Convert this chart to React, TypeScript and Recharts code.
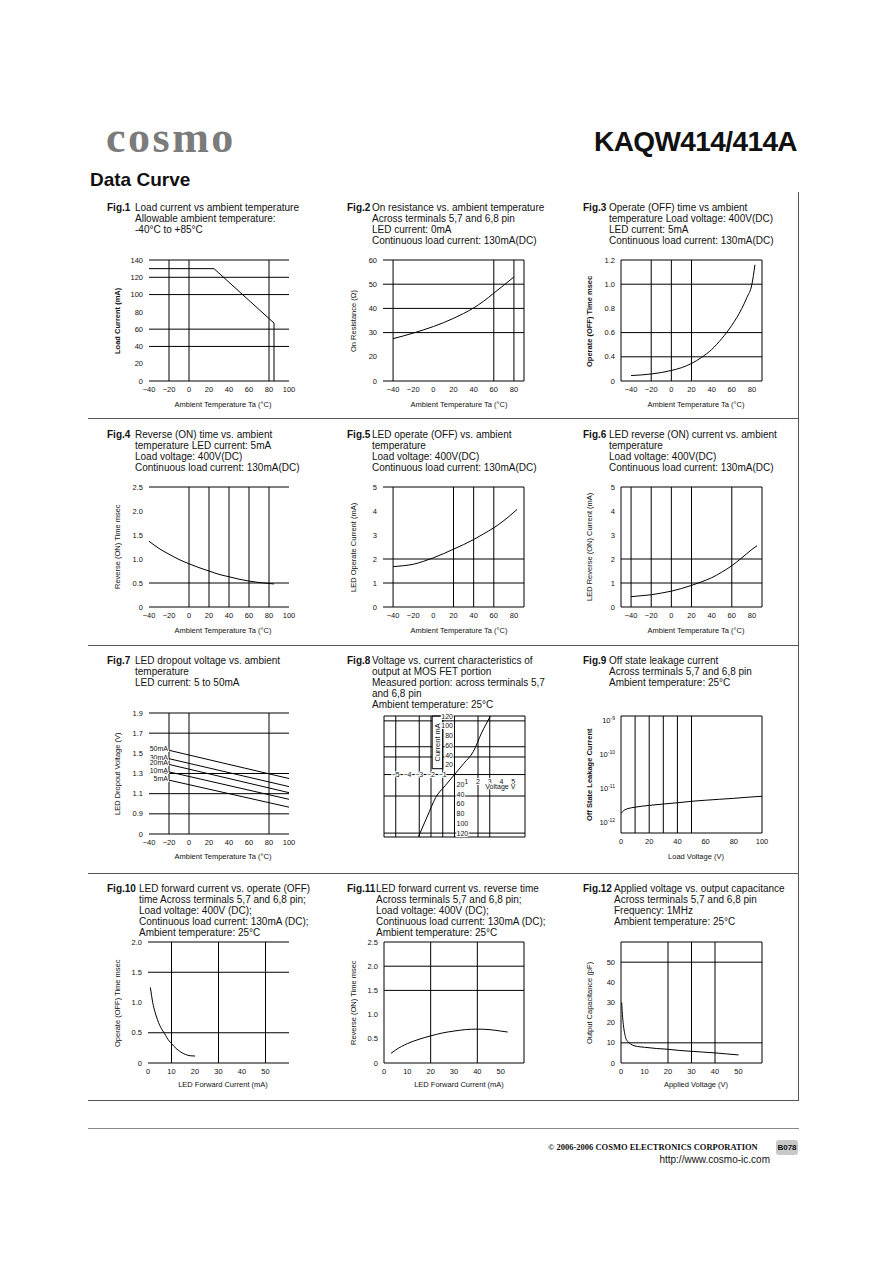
import React from 'react';
import {
  LineChart, Line, XAxis, YAxis, ReferenceLine, ReferenceDot, ReferenceArea,
} from 'recharts';

const SANS = '"Liberation Sans", Arial, Helvetica, sans-serif';
const SERIF = '"Liberation Serif", "DejaVu Serif", serif';
const INK = '#111';

// ---------- data ----------
const tempTicksWide = [-40, -20, 0, 20, 40, 60, 80, 100];
const tempTicks = [-40, -20, 0, 20, 40, 60, 80];

// Fig.1 load current vs ambient temperature
const f1Temp = [-40, 25, 85, 85];
const f1Load = [130, 130, 67, 0];
const f1YTicks = [0, 20, 40, 60, 80, 100, 120, 140];

// Fig.2 on resistance
const f2Temp = [-40, -30, -20, -10, 0, 10, 20, 30, 40, 50, 60, 70, 80];
const f2Ohm = [27.5, 28.6, 29.8, 31.1, 32.5, 34.1, 35.9, 37.9, 40.2, 43.0, 46.3, 49.6, 53.0];
const f2YTicks = [10, 20, 30, 40, 50, 60];

// Fig.3 operate (OFF) time
const f3Temp = [-40, -30, -20, -10, 0, 10, 20, 30, 40, 50, 60, 70, 75, 80, 83];
const f3Ms = [0.245, 0.25, 0.258, 0.27, 0.287, 0.31, 0.345, 0.395, 0.46, 0.55, 0.66, 0.8, 0.89, 1.0, 1.16];
const f3YTicks = [0.2, 0.4, 0.6, 0.8, 1.0, 1.2];

// Fig.4 reverse (ON) time
const f4Temp = [-40, -30, -20, -10, 0, 10, 20, 30, 40, 50, 60, 70, 80, 85];
const f4Ms = [1.37, 1.22, 1.1, 0.99, 0.9, 0.82, 0.75, 0.68, 0.63, 0.58, 0.54, 0.51, 0.49, 0.48];
const halfTicks25 = [0, 0.5, 1.0, 1.5, 2.0, 2.5];

// Fig.5 LED operate current
const f5Temp = [-40, -30, -20, -10, 0, 10, 20, 30, 40, 50, 60, 70, 80, 83];
const f5mA = [1.68, 1.72, 1.78, 1.9, 2.05, 2.22, 2.41, 2.6, 2.81, 3.05, 3.3, 3.6, 3.95, 4.06];
const unitTicks5 = [0, 1, 2, 3, 4, 5];

// Fig.6 LED reverse current
const f6Temp = [-40, -30, -20, -10, 0, 10, 20, 30, 40, 50, 60, 70, 80, 85];
const f6mA = [0.43, 0.47, 0.51, 0.58, 0.66, 0.77, 0.9, 1.05, 1.22, 1.45, 1.72, 2.05, 2.4, 2.55];

// Fig.7 LED dropout voltage
const f7Temp = [-20, 100];
const f7Labels = ['50mA', '30mA', '20mA', '10mA', '5mA'];
const f7V50 = [1.53, 1.25];
const f7V30 = [1.447, 1.17];
const f7V20 = [1.39, 1.11];
const f7V10 = [1.316, 1.044];
const f7V5 = [1.234, 0.966];
const f7YTicks = [0.7, 0.9, 1.1, 1.3, 1.5, 1.7, 1.9];

// Fig.8 V-I of MOS FET output
const f8Volt = [-3.06, -2.3, -1.6, -0.8, 0, 0.8, 1.6, 2.3, 3.06];
const f8mA = [-127, -85, -47, -23, 0, 23, 47, 85, 120];
const f8VoltTicks = [-5, -4, -3, -2, -1, 1, 2, 3, 4, 5];
const f8CurUp = [120, 100, 80, 60, 40, 20];
const f8CurDown = [-20, -40, -60, -80, -100, -120];

// Fig.9 off state leakage
const f9Volt = [0, 2, 5, 10, 20, 30, 40, 50, 60, 70, 80, 90, 100];
const f9Amp = [1.8e-12, 2.2e-12, 2.5e-12, 2.75e-12, 3.1e-12, 3.4e-12, 3.7e-12, 4.1e-12, 4.4e-12, 4.7e-12, 5.0e-12, 5.4e-12, 5.75e-12];
const f9YTicks = [1e-12, 1e-11, 1e-10, 1e-9];
const f9XTicks = [0, 20, 40, 60, 80, 100];

// Fig.10 LED forward current vs operate time
const f10mA = [1, 1.5, 2, 3, 4, 5, 6, 7, 8, 10, 12, 14, 16, 18, 20];
const f10Ms = [1.25, 1.12, 1.0, 0.84, 0.72, 0.62, 0.55, 0.49, 0.42, 0.32, 0.24, 0.18, 0.14, 0.12, 0.115];
const f10YTicks = [0, 0.5, 1.0, 1.5, 2.0];
const mATicks = [0, 10, 20, 30, 40, 50];

// Fig.11 LED forward current vs reverse time
const f11mA = [3, 5, 10, 15, 20, 25, 30, 35, 40, 45, 50, 53];
const f11Ms = [0.2, 0.27, 0.4, 0.49, 0.56, 0.62, 0.66, 0.69, 0.7, 0.69, 0.66, 0.64];

// Fig.12 applied voltage vs output capacitance
const f12Volt = [0.3, 0.6, 1, 1.5, 2, 3, 4, 5, 7, 10, 15, 20, 25, 30, 35, 40, 45, 50];
const f12pF = [30, 24, 19, 15, 12.5, 10.5, 9.5, 8.8, 8.2, 7.8, 7.2, 6.8, 6.2, 5.8, 5.4, 5.0, 4.5, 4.0];
const f12YTicks = [0, 10, 20, 30, 40, 50];

// ---------- helpers ----------
const pts = (xs: number[], ys: number[]) => xs.map((x, i) => ({ x, y: ys[i] }));
const fmtNum = (v: number) => (v < 0 ? '\u2212' + Math.abs(v) : String(v));
const fmtDec = (v: number) => (v === 0 ? '0' : v.toFixed(1));
const brokenZero = (base: number, dec: boolean) => (v: number) =>
  Math.abs(v - base) < 1e-9 ? '0' : dec ? v.toFixed(1) : String(v);

const TXT = { fontSize: 7.5, fill: INK, fontFamily: SANS };
const ML = 34, MR = 10, MT = 8, MB = 18, YW = 32, XH = 16;

interface PlotProps {
  left: number; top: number; w: number; h: number;
  xDomain: [number, number]; yDomain: [number, number];
  xTicks?: number[]; yTicks?: number[];
  xFmt?: (v: number) => string; yFmt?: (v: number) => string;
  gridX?: number[]; gridY?: number[];
  leftAxis?: boolean; noTicks?: boolean; yLog?: boolean;
  yTick?: any;
  series: { x: number; y: number }[][];
  curve?: 'monotone' | 'linear';
  children?: React.ReactNode;
}

function Plot(p: PlotProps) {
  const {
    left, top, w, h, xDomain, yDomain, xTicks, yTicks, xFmt = fmtNum, yFmt = fmtNum,
    gridX = [], gridY = [], leftAxis = false, noTicks = false, yLog = false, yTick,
    series, curve = 'monotone', children,
  } = p;
  return (
    <div style={{ position: 'absolute', left: left - ML, top: top - MT }}>
      <LineChart
        width={w + ML + MR}
        height={h + MT + MB}
        margin={{ top: MT, right: MR, bottom: MB - XH, left: ML - YW }}
      >
        <XAxis
          type="number" dataKey="x" domain={xDomain} ticks={xTicks} interval={0}
          allowDataOverflow tickFormatter={xFmt} tickLine={false} tickSize={5} tickMargin={1}
          height={XH} axisLine={noTicks ? false : { stroke: '#000' }} tick={noTicks ? false : TXT}
        />
        <YAxis
          type="number" domain={yDomain} scale={yLog ? 'log' : 'linear'} ticks={yTicks} interval={0}
          allowDataOverflow tickFormatter={yFmt} width={YW} tickLine={false} tickSize={4} tickMargin={2}
          axisLine={leftAxis ? { stroke: '#000' } : false}
          tick={noTicks ? false : yTick ? yTick : TXT}
        />
        {gridX.map((v) => (
          <ReferenceLine key={'gx' + v} x={v} stroke="#000" strokeWidth={1} ifOverflow="visible" />
        ))}
        {gridY.map((v) => (
          <ReferenceLine key={'gy' + v} y={v} stroke="#000" strokeWidth={1} ifOverflow="visible" />
        ))}
        {children}
        {series.map((d, i) => (
          <Line
            key={'s' + i} data={d} dataKey="y" type={curve} stroke="#000" strokeWidth={1}
            dot={false} activeDot={false} isAnimationActive={false}
          />
        ))}
      </LineChart>
    </div>
  );
}

function PowTick(props: any) {
  const { x, y, payload } = props;
  const e = Math.round(Math.log10(payload.value));
  return (
    <text x={x} y={y + 3} textAnchor="end" fontSize={7.5} fontFamily={SANS} fill={INK}>
      10<tspan dy={-3.5} fontSize={5}>{e}</tspan>
    </text>
  );
}

function Title({ x, bodyX, y, fig, lines }: { x: number; bodyX: number; y: number; fig: string; lines: string[] }) {
  return (
    <>
      <div style={{ position: 'absolute', left: x, top: y, font: `bold 10px ${SANS}`, lineHeight: '11px', whiteSpace: 'nowrap' }}>{fig}</div>
      <div style={{ position: 'absolute', left: bodyX, top: y, font: `10px ${SANS}`, lineHeight: '11px', whiteSpace: 'nowrap' }}>
        {lines.map((l, i) => <div key={i}>{l}</div>)}
      </div>
    </>
  );
}

function XT({ cx, y, text }: { cx: number; y: number; text: string }) {
  return (
    <div style={{ position: 'absolute', left: cx - 100, width: 200, top: y - 5, textAlign: 'center', font: `7.5px ${SANS}`, lineHeight: '10px', whiteSpace: 'nowrap' }}>{text}</div>
  );
}

function YT({ cx, cy, text, bold }: { cx: number; cy: number; text: string; bold?: boolean }) {
  return (
    <div style={{
      position: 'absolute', left: cx - 6, top: cy - 80, width: 12, height: 160, writingMode: 'vertical-rl',
      transform: 'rotate(180deg)', textAlign: 'center', font: `${bold ? 'bold ' : ''}7.5px ${SANS}`,
      lineHeight: '12px', whiteSpace: 'nowrap',
    }}>{text}</div>
  );
}

const COL = [{ left: 149, w: 140 }, { left: 383, w: 141 }, { left: 621, w: 141 }];
const ROW = [{ top: 260, h: 121 }, { top: 487, h: 120 }, { top: 713, h: 121 }, { top: 942, h: 121 }];
const pos = (c: number, r: number) => ({ left: COL[c].left, w: COL[c].w, top: ROW[r].top, h: ROW[r].h });
const XTY = [405, 631, 857, 1085];
const XTC = [223, 459, 696];
const YTC = [118, 354, 590];
const rowMid = (r: number) => ROW[r].top + ROW[r].h / 2;
const TTY = [202, 429, 655, 883];

const haloText = (anchor: 'start' | 'middle' | 'end', dx: number, dy: number, label: string) =>
  (props: any) => (
    <text
      x={props.cx + dx} y={props.cy + dy} textAnchor={anchor} fontSize={7} fontFamily={SANS} fill={INK}
      stroke="#fff" strokeWidth={2} paintOrder="stroke"
    >{label}</text>
  );

export default function App() {
  const f7Series = [f7V50, f7V30, f7V20, f7V10, f7V5];
  return (
    <div style={{ position: 'absolute', left: 0, top: 0, width: 892, height: 1263, background: '#fff', fontFamily: SANS, color: INK, overflow: 'hidden' }}>
      {/* header */}
      <div style={{ position: 'absolute', left: 106, top: 116, font: `bold 44px ${SERIF}`, lineHeight: '44px', color: '#7b7b7b', letterSpacing: 2.5 }}>cosmo</div>
      <div style={{ position: 'absolute', right: 892 - 797, top: 128, font: `bold 28px ${SANS}`, lineHeight: '28px', letterSpacing: -0.6 }}>KAQW414/414A</div>
      <div style={{ position: 'absolute', left: 90, top: 170, font: `bold 19px ${SANS}`, lineHeight: '19px' }}>Data Curve</div>

      {/* frame */}
      <div style={{ position: 'absolute', left: 798, top: 192, height: 908, borderLeft: '1px solid #555' }} />
      {[418, 645, 873, 1100].map((y) => (
        <div key={y} style={{ position: 'absolute', left: 88, top: y, width: 711, borderTop: '1px solid #555' }} />
      ))}

      {/* ---- row 1 ---- */}
      <Title x={107} bodyX={135} y={TTY[0]} fig="Fig.1" lines={['Load current vs  ambient temperature', 'Allowable ambient temperature:', '-40°C to +85°C']} />
      <Plot {...pos(0, 0)} xDomain={[-40, 100]} yDomain={[0, 140]} xTicks={tempTicksWide} yTicks={f1YTicks}
        gridX={[-20, 0, 80]} gridY={[140, 120, 100, 60, 40]} series={[pts(f1Temp, f1Load)]} curve="linear" />
      <XT cx={XTC[0]} y={XTY[0]} text="Ambient Temperature Ta (°C)" />
      <YT cx={YTC[0]} cy={rowMid(0)} text="Load Current (mA)" bold />

      <Title x={347} bodyX={372} y={TTY[0]} fig="Fig.2" lines={['On resistance vs. ambient temperature', 'Across terminals 5,7 and 6,8 pin', 'LED current: 0mA', 'Continuous load current: 130mA(DC)']} />
      <Plot {...pos(1, 0)} xDomain={[-50, 90]} yDomain={[10, 60]} xTicks={tempTicks} yTicks={f2YTicks}
        yFmt={brokenZero(10, false)} gridX={[-40, 60, 80, 90]} gridY={[60, 50, 40, 30]} series={[pts(f2Temp, f2Ohm)]} />
      <XT cx={XTC[1]} y={XTY[0]} text="Ambient Temperature Ta (°C)" />
      <YT cx={YTC[1]} cy={rowMid(0)} text="On Resistance (Ω)" />

      <Title x={583} bodyX={609} y={TTY[0]} fig="Fig.3" lines={['Operate (OFF) time vs  ambient', 'temperature Load voltage: 400V(DC)', 'LED current: 5mA', 'Continuous load current: 130mA(DC)']} />
      <Plot {...pos(2, 0)} xDomain={[-50, 90]} yDomain={[0.2, 1.2]} xTicks={tempTicks} yTicks={f3YTicks}
        yFmt={brokenZero(0.2, true)} gridX={[-20, 0, 20, 90]} gridY={[1.2, 1.0, 0.6, 0.4]} leftAxis series={[pts(f3Temp, f3Ms)]} />
      <XT cx={XTC[2]} y={XTY[0]} text="Ambient Temperature Ta (°C)" />
      <YT cx={YTC[2]} cy={rowMid(0)} text="Operate (OFF) Time msec" bold />

      {/* ---- row 2 ---- */}
      <Title x={107} bodyX={135} y={TTY[1]} fig="Fig.4" lines={['Reverse (ON) time vs. ambient', 'temperature LED current: 5mA', 'Load voltage: 400V(DC)', 'Continuous load current: 130mA(DC)']} />
      <Plot {...pos(0, 1)} xDomain={[-40, 100]} yDomain={[0, 2.5]} xTicks={tempTicksWide} yTicks={halfTicks25}
        yFmt={fmtDec} gridX={[0, 20, 40, 60, 80]} gridY={[2.5, 0.5]} series={[pts(f4Temp, f4Ms)]} />
      <XT cx={XTC[0]} y={XTY[1]} text="Ambient Temperature Ta (°C)" />
      <YT cx={YTC[0]} cy={rowMid(1)} text="Reverse (ON) Time msec" />

      <Title x={347} bodyX={372} y={TTY[1]} fig="Fig.5" lines={['LED operate (OFF) vs. ambient', 'temperature', 'Load voltage: 400V(DC)', 'Continuous load current: 130mA(DC)']} />
      <Plot {...pos(1, 1)} xDomain={[-50, 90]} yDomain={[0, 5]} xTicks={tempTicks} yTicks={unitTicks5}
        gridX={[-40, 20, 40, 60, 90]} gridY={[5, 2, 1]} series={[pts(f5Temp, f5mA)]} />
      <XT cx={XTC[1]} y={XTY[1]} text="Ambient Temperature Ta (°C)" />
      <YT cx={YTC[1]} cy={rowMid(1)} text="LED Operate Current (mA)" />

      <Title x={583} bodyX={609} y={TTY[1]} fig="Fig.6" lines={['LED reverse (ON) current vs. ambient', 'temperature', 'Load voltage: 400V(DC)', 'Continuous load current: 130mA(DC)']} />
      <Plot {...pos(2, 1)} xDomain={[-50, 90]} yDomain={[0, 5]} xTicks={tempTicks} yTicks={unitTicks5}
        gridX={[-40, -20, 0, 20, 60, 90]} gridY={[5, 2, 1]} leftAxis series={[pts(f6Temp, f6mA)]} />
      <XT cx={XTC[2]} y={XTY[1]} text="Ambient Temperature Ta (°C)" />
      <YT cx={YTC[2]} cy={rowMid(1)} text="LED Reverse (ON) Current (mA)" />

      {/* ---- row 3 ---- */}
      <Title x={107} bodyX={135} y={TTY[2]} fig="Fig.7" lines={['LED dropout voltage vs. ambient', 'temperature', 'LED current: 5 to 50mA']} />
      <Plot {...pos(0, 2)} xDomain={[-40, 100]} yDomain={[0.7, 1.9]} xTicks={tempTicksWide} yTicks={f7YTicks}
        yFmt={brokenZero(0.7, true)} gridX={[-20, 0, 80]} gridY={[1.9, 1.7, 1.3, 1.1, 0.9]}
        series={f7Series.map((s) => pts(f7Temp, s))} curve="linear">
        {f7Series.map((s, i) => (
          <ReferenceDot key={'l7' + i} x={f7Temp[0]} y={s[0]} r={0} ifOverflow="visible"
            shape={haloText('end', -1, 1, f7Labels[i])} />
        ))}
      </Plot>
      <XT cx={XTC[0]} y={XTY[2]} text="Ambient Temperature Ta (°C)" />
      <YT cx={YTC[0]} cy={rowMid(2)} text="LED Dropout Voltage (V)" />

      <Title x={347} bodyX={372} y={TTY[2]} fig="Fig.8" lines={['Voltage vs. current characteristics of', 'output at MOS FET portion', 'Measured portion: across terminals 5,7', 'and 6,8 pin', 'Ambient temperature: 25°C']} />
      <Plot left={384} w={141} top={716} h={121} xDomain={[-6, 6]} yDomain={[-128, 120]} noTicks
        gridX={[-6, -5, -3, -2, -1, 0, 2, 3, 6]} gridY={[-128, -120, -44, 0, 120]} series={[pts(f8Volt, f8mA)]}>
        {[110, 57, 36].map((v) => (
          <ReferenceLine key={'a' + v} segment={[{ x: -6, y: v }, { x: -1.9, y: v }]} stroke="#000" />
        ))}
        {[110, 57, 36].map((v) => (
          <ReferenceLine key={'b' + v} segment={[{ x: -1, y: v }, { x: 6, y: v }]} stroke="#000" />
        ))}
        <ReferenceArea x1={-1.9} x2={-1.0} y1={12} y2={120} fill="#fff" fillOpacity={1} stroke="#000"
          label={{ value: 'Current  mA', angle: -90, position: 'center', fontSize: 7.5, fill: INK }} />
        {f8VoltTicks.map((v) => (
          <ReferenceDot key={'v' + v} x={v} y={0} r={0} ifOverflow="visible"
            shape={haloText('middle', 0, v < 0 ? 2.5 : 9, fmtNum(v))} />
        ))}
        {f8CurUp.map((v) => (
          <ReferenceDot key={'cu' + v} x={0} y={v} r={0} ifOverflow="visible"
            shape={haloText('end', -1.5, 2.5, String(v))} />
        ))}
        {f8CurDown.map((v) => (
          <ReferenceDot key={'cd' + v} x={0} y={v} r={0} ifOverflow="visible"
            shape={haloText('start', 2, 2.5, String(Math.abs(v)))} />
        ))}
        <ReferenceDot x={3.9} y={-25} r={0} ifOverflow="visible" shape={haloText('middle', 0, 2.5, 'Voltage  V')} />
      </Plot>

      <Title x={583} bodyX={609} y={TTY[2]} fig="Fig.9" lines={['Off state leakage current', 'Across terminals 5,7 and 6,8 pin', 'Ambient temperature: 25°C']} />
      <Plot left={621} w={141} top={716} h={117} xDomain={[0, 100]} yDomain={[Math.pow(10, -12.32), Math.pow(10, -8.88)]}
        yLog xTicks={f9XTicks} yTicks={f9YTicks} yTick={(pr: any) => <PowTick {...pr} />}
        gridX={[10, 20, 30, 40, 50, 100]} gridY={[Math.pow(10, -8.88)]} leftAxis series={[pts(f9Volt, f9Amp)]} />
      <XT cx={XTC[2]} y={XTY[2]} text="Load Voltage (V)" />
      <YT cx={YTC[2]} cy={775} text="Off State Leakage Current" bold />

      {/* ---- row 4 ---- */}
      <Title x={107} bodyX={139} y={TTY[3]} fig="Fig.10" lines={['LED forward current vs. operate (OFF)', 'time Across terminals 5,7 and 6,8 pin;', 'Load voltage: 400V (DC);', 'Continuous load current: 130mA (DC);', 'Ambient temperature: 25°C']} />
      <Plot left={148} w={141} top={942} h={121} xDomain={[0, 60]} yDomain={[0, 2]} xTicks={mATicks} yTicks={f10YTicks}
        yFmt={fmtDec} gridX={[10, 30, 50]} gridY={[2, 1.5, 0.5]} series={[pts(f10mA, f10Ms)]} />
      <XT cx={XTC[0]} y={XTY[3]} text="LED Forward Current (mA)" />
      <YT cx={YTC[0]} cy={rowMid(3)} text="Operate (OFF) Time msec" />

      <Title x={347} bodyX={376} y={TTY[3]} fig="Fig.11" lines={['LED forward current vs. reverse time', 'Across terminals 5,7 and 6,8 pin;', 'Load voltage: 400V (DC);', 'Continuous load current: 130mA (DC);', 'Ambient temperature: 25°C']} />
      <Plot left={384} w={140} top={942} h={121} xDomain={[0, 60]} yDomain={[0, 2.5]} xTicks={mATicks} yTicks={halfTicks25}
        yFmt={fmtDec} gridX={[20, 40, 60]} gridY={[2.5, 2.0, 1.5]} leftAxis series={[pts(f11mA, f11Ms)]} />
      <XT cx={XTC[1]} y={XTY[3]} text="LED Forward Current (mA)" />
      <YT cx={YTC[1]} cy={rowMid(3)} text="Reverse (ON) Time msec" />

      <Title x={583} bodyX={614} y={TTY[3]} fig="Fig.12" lines={['Applied voltage vs. output capacitance', 'Across terminals 5,7 and 6,8 pin', 'Frequency: 1MHz', 'Ambient temperature: 25°C']} />
      <Plot {...pos(2, 3)} xDomain={[0, 60]} yDomain={[0, 60]} xTicks={mATicks} yTicks={f12YTicks}
        gridX={[20, 30, 40, 60]} gridY={[60, 50, 10]} leftAxis series={[pts(f12Volt, f12pF)]} />
      <XT cx={XTC[2]} y={XTY[3]} text="Applied Voltage (V)" />
      <YT cx={YTC[2]} cy={rowMid(3)} text="Output Capacitance (pF)" />

      {/* footer */}
      <div style={{ position: 'absolute', left: 88, top: 1128, width: 711, borderTop: '1px solid #888' }} />
      <div style={{ position: 'absolute', left: 548, top: 1141, font: `bold 8.5px ${SERIF}`, lineHeight: '12px', whiteSpace: 'nowrap' }}>
        © 2006-2006 COSMO ELECTRONICS CORPORATION
      </div>
      <div style={{ position: 'absolute', left: 776, top: 1140, width: 22, height: 15, background: '#c8c8c8', borderRadius: 3, font: `bold 8px ${SANS}`, lineHeight: '15px', textAlign: 'center' }}>B078</div>
      <div style={{ position: 'absolute', right: 892 - 770, top: 1154, font: `10px ${SANS}`, lineHeight: '12px', whiteSpace: 'nowrap' }}>http://www.cosmo-ic.com</div>
    </div>
  );
}
